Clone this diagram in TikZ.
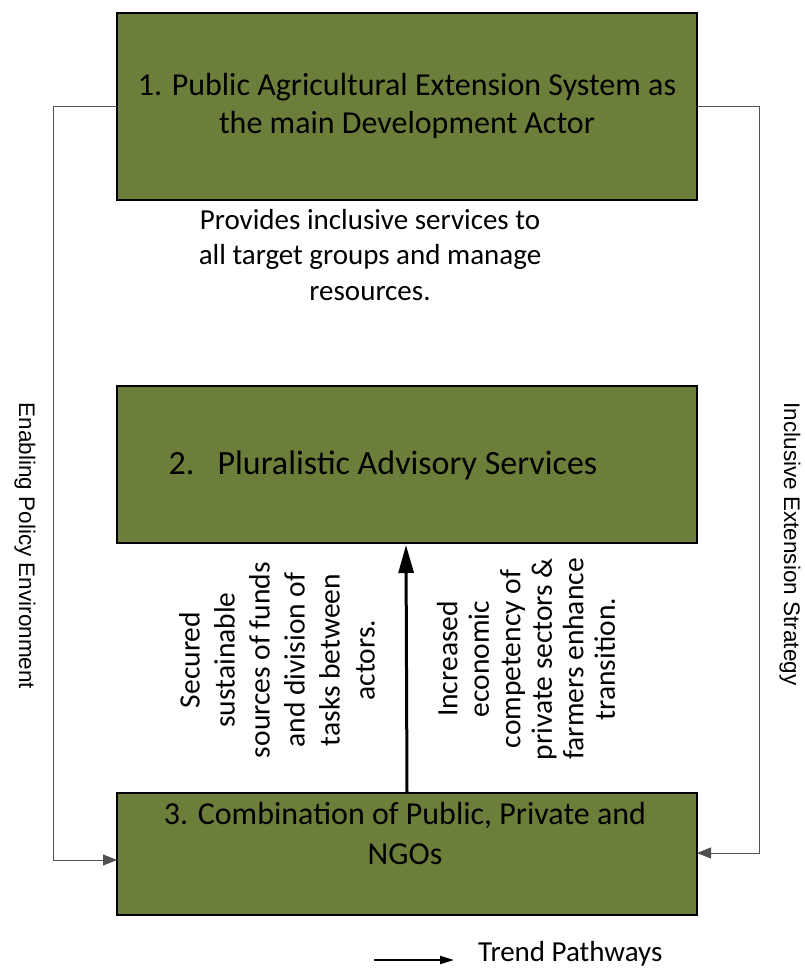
\documentclass[tikz,border=0pt]{standalone}
\usepackage{fontspec}
\setmainfont{Carlito}
\newfontfamily\sidefont{Liberation Sans}
\usetikzlibrary{arrows.meta}
\definecolor{olivebox}{RGB}{107,127,58}
\definecolor{linkgray}{RGB}{80,80,80}
\tikzset{
  stage/.style={draw=black, line width=1.3pt, fill=olivebox},
  link/.style={draw=linkgray, line width=1pt, -{Triangle[length=14pt,width=11pt]}},
  trend/.style={draw=black, line width=3pt, -{Triangle[length=28pt,width=15pt]}},
  sidelabel/.style={font=\sidefont\fontsize{22.5}{26}\selectfont, rotate=-90, inner sep=0pt},
  midtext/.style={font=\fontsize{29.5}{35}\selectfont, align=center, rotate=90, inner sep=0pt},
}
\begin{document}
\begin{tikzpicture}[x=1pt,y=-1pt]
\useasboundingbox (0,0) rectangle (805,971);

% three stages
\path[stage] (117,13) rectangle (697,200);
\path[stage] (117,386) rectangle (697,543);
\path[stage] (117,793) rectangle (697,915);

\node[inner sep=0pt] (s3top) at (407,793) {};
\coordinate (s1l) at (117,107);
\coordinate (s1r) at (697,107);
\coordinate (s3l) at (117,860);
\coordinate (s3r) at (697,853);

\node[font=\fontsize{32}{38}\selectfont, align=center, inner sep=0pt] (t1) at (407,106)
  {1. Public Agricultural Extension System as\\the main Development Actor};
\node[font=\fontsize{34}{38}\selectfont, inner sep=0pt] (t2) at (383,465)
  {2.\ \ \ Pluralistic Advisory Services};
\node[font=\fontsize{32}{40}\selectfont, align=center, inner sep=0pt] (t3) at (405,833)
  {3. Combination of Public, Private and\\NGOs};

\node[font=\fontsize{29}{35.5}\selectfont, align=center, inner sep=0pt] (prov) at (370,255)
  {Provides inclusive services to\\all target groups and manage\\resources.};

% side connectors
\draw[link] (s1l) -- (53,107) -- (53,860) -- (s3l);
\draw[link] (s1r) -- (759,107) -- (759,853) -- (s3r);

\node[sidelabel] (lp) at (25,546) {Enabling Policy Environment};
\node[sidelabel] (rp) at (790,544) {Inclusive Extension Strategy};

% central trend pathway
\draw[trend] (s3top) -- (406,545);

\node[midtext] (m1) at (277,660)
  {Secured\\sustainable\\sources of funds\\and division of\\tasks between\\actors.};
\node[midtext, font=\fontsize{29.5}{31.5}\selectfont] (m2) at (526,659)
  {Increased\\economic\\competency of\\private sectors \&\\farmers enhance\\transition.};

% legend
\coordinate (lg1) at (374,960);
\coordinate (lg2) at (454,960);
\draw[draw=black, line width=2pt, -{Triangle[length=14pt,width=8pt]}] (lg1) -- (lg2);
\node[font=\fontsize{29}{32}\selectfont, anchor=west, inner sep=0pt] (lgt) at (478,954) {Trend Pathways};
\end{tikzpicture}
\end{document}
